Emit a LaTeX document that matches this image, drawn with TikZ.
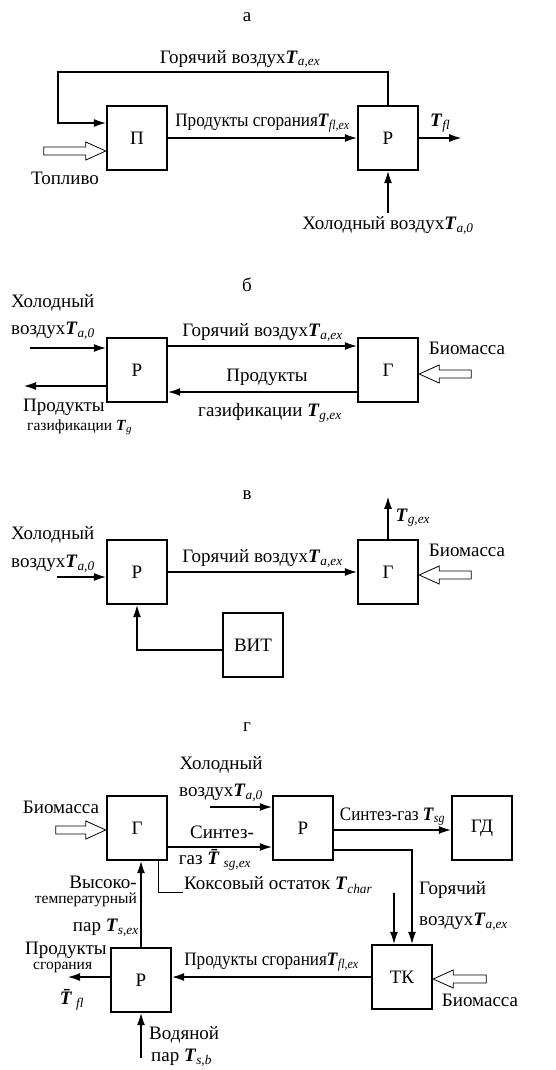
\documentclass[tikz,border=0pt]{standalone}
\usepackage{fontspec}
\usepackage{graphicx}
\setmainfont{Liberation Serif}
\usetikzlibrary{arrows.meta,calc}

\newcommand{\Tsub}[1]{\textbf{\textit{T}}\textsubscript{\textit{#1}}}
\newcommand{\Tbar}[1]{\textbf{\textit{\=T}}\textsubscript{\textit{#1}}}
\newcommand{\narrow}[1]{\scalebox{0.9}[1]{#1}}
% hollow feed arrow: tip, length, direction (1 right, -1 left)
\newcommand{\fatarrow}[3]{%
  \draw[fat] (#1) -- ++({-(#3)*20},-9) -- ++(0,5) -- ++({-(#3)*(#2-20)},0)
    -- ++(0,8) -- ++({(#3)*(#2-20)},0) -- ++(0,5) -- cycle;}

\begin{document}
\begin{tikzpicture}[x=1pt,y=-1pt,
  box/.style={draw,line width=2.4pt,minimum width=60pt,minimum height=64pt,inner sep=0pt},
  arr/.style={line width=1.1pt,-{Latex[length=12pt,width=8pt]}},
  ln/.style={line width=0.9pt},
  fat/.style={line width=0.8pt},
  every node/.style={font=\fontsize{19}{20}\selectfont,inner sep=1pt},
  sm/.style={font=\fontsize{15.5}{16}\selectfont}]
\useasboundingbox (0,0) rectangle (555,1070);

% а
\node (labA) at (247,17) {а};
\node[box] (pA) at (137,138) {П};
\node[box] (rA) at (388,138) {Р};
\draw[arr] (rA.north) |- (58,72) |- ([yshift=15pt]pA.west);
\node (hotA) at (240,59) {Горячий воздух\Tsub{a,ex}};
\draw[arr] (pA.east) -- (rA.west)
  node[midway,above=4pt] {\narrow{Продукты сгорания\Tsub{fl,ex}}};
\draw[arr] (rA.east) -- ++(42,0) node[midway,above=4pt] {\Tsub{fl}};
\coordinate (cA) at (388,213);
\draw[arr] (cA) -- (rA.south);
\node[below=2pt] (coldA) at (cA) {Холодный воздух\Tsub{a,0}};
\fatarrow{[yshift=-13pt]pA.west}{62}{1}
\node (fuelA) at (65,178) {Топливо};

% б
\node (labB) at (247,285) {б};
\node[box] (rB) at (137,370) {Р};
\node[box] (gB) at (388,370) {Г};
\node[anchor=west] (coldB1) at (10,303) {Холодный};
\node[anchor=west] (coldB2) at (10,331) {воздух\Tsub{a,0}};
\coordinate (cB) at (30,348);
\draw[arr] (cB) -- (cB -| rB.west);
\coordinate (oB) at (24,386);
\draw[arr] (oB -| rB.west) -- (oB);
\node[anchor=west] (prodB1) at (22,407) {Продукты};
\node[sm,anchor=west] (prodB2) at (26,427) {газификации \Tsub{g}};
\draw[arr] ([yshift=24pt]rB.east) -- ([yshift=24pt]gB.west)
  node[midway,above=3pt] {Горячий воздух\Tsub{a,ex}};
\draw[arr] ([yshift=-22pt]gB.west) -- ([yshift=-22pt]rB.east);
\node (gasB1) at (267,377) {Продукты};
\node (gasB2) at (270,413) {газификации \Tsub{g,ex}};
\fatarrow{[yshift=-4pt]gB.east}{52}{-1}
\node (bioB) at (467,348) {Биомасса};

% в
\node (labC) at (247,495) {в};
\node[box] (rC) at (137,572) {Р};
\node[box] (gC) at (388,572) {Г};
\node[box] (vit) at (253,645) {ВИТ};
\node[anchor=west] (coldC1) at (10,535) {Холодный};
\node[anchor=west] (coldC2) at (10,564) {воздух\Tsub{a,0}};
\coordinate (cC) at (57,577);
\draw[arr] (cC) -- (cC -| rC.west);
\draw[arr] (rC.east) -- (gC.west) node[midway,above=3pt] {Горячий воздух\Tsub{a,ex}};
\draw[arr] (gC.north) -- ++(0,-42) node[pos=0.5,right=6pt] {\Tsub{g,ex}};
\fatarrow{[yshift=-3pt]gC.east}{52}{-1}
\node (bioC) at (467,550) {Биомасса};
\draw[arr] ([yshift=-5pt]vit.west) -| (rC.south);

% г
\node (labD) at (247,727) {г};
\node[box] (gD) at (137,828) {Г};
\node[box] (rD) at (303,828) {Р};
\node[box] (gdD) at (482,828) {ГД};
\node[box] (tk) at (402,977) {ТК};
\node[box] (rE) at (141,980) {Р};
\node (bioD1) at (61,807) {Биомасса};
\fatarrow{[yshift=-2pt]gD.west}{50}{1}
\node (coldD1) at (221,765) {Холодный};
\node (coldD2) at (221,793) {воздух\Tsub{a,0}};
\coordinate (cD) at (210,807);
\draw[arr] (cD) -- (cD -| rD.west);
\draw[arr] ([yshift=-19pt]gD.east) -- ([yshift=-19pt]gD.east -| rD.west);
\node (sgD1) at (222,832) {Синтез-};
\node (sgD2) at (215,860) {газ \Tbar{sg,ex}};
\draw[arr] ([yshift=-2pt]rD.east) -- ([yshift=-2pt]gdD.west)
  node[midway,above=3pt] {\narrow{Синтез-газ \Tsub{sg}}};
\draw[arr] ([yshift=-22pt]rD.east) -| ([xshift=10pt]tk.north);
\coordinate (hD) at (394,893);
\draw[arr] (hD) -- (hD |- tk.north);
\node[anchor=west] (hotD1) at (418,890) {Горячий};
\node[anchor=west] (hotD2) at (418,922) {воздух\Tsub{a,ex}};
\draw[ln] ([xshift=21pt]gD.south) |- (183,892);
\node[anchor=west] (charD) at (183,885) {Коксовый остаток \Tsub{char}};
\draw[arr] (tk.west) -- (tk.west -| rE.east)
  node[midway,above=4pt] {\narrow{Продукты сгорания\Tsub{fl,ex}}};
\fatarrow{[yshift=-2pt]tk.east}{53}{-1}
\node (bioD2) at (480,1000) {Биомасса};
\draw[arr] (rE.north) -- (rE.north |- gD.south);
\node[anchor=east] (stD1) at (138,882) {Высоко-};
\node[sm,anchor=east] (stD2) at (138,900) {температурный};
\node[anchor=east] (stD3) at (140,928) {пар \Tsub{s,ex}};
\node[anchor=west] (prD1) at (24,950) {Продукты};
\node[sm,anchor=west] (prD2) at (32,967) {сгорания};
\coordinate (oD) at (68,977);
\draw[arr] (oD -| rE.west) -- (oD);
\node (tflD) at (72,1000) {\Tbar{fl}};
\coordinate (wD) at (141,1058);
\draw[arr] (wD) -- (rE.south);
\node[anchor=west] (wD1) at (148,1035) {Водяной};
\node[anchor=west] (wD2) at (150,1058) {пар \Tsub{s,b}};
\end{tikzpicture}
\end{document}
